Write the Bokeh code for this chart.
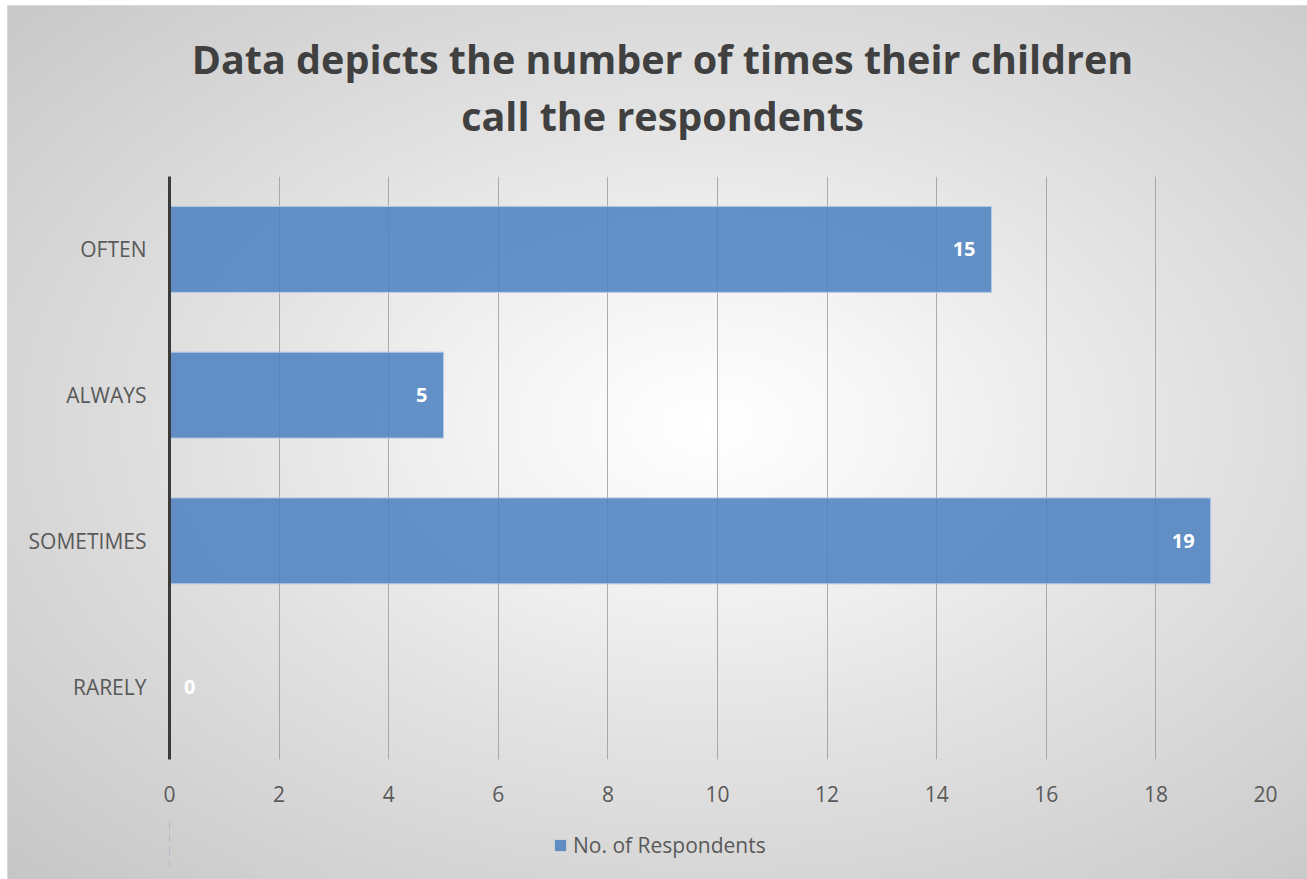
from bokeh.plotting import figure
from bokeh.models import ColumnDataSource, Legend, LegendItem, Div, Range1d
from bokeh.layouts import column
from bokeh.embed import file_html
from bokeh.resources import INLINE
from bokeh.core.properties import value

# Responses per category
categories = ["RARELY", "SOMETIMES", "ALWAYS", "OFTEN"]
respondents = [0, 19, 5, 15]
x_ticks = [0, 2, 4, 6, 8, 10, 12, 14, 16, 18, 20]

title_lines = ["Data depicts the number of times their children",
               "call the respondents"]
series_name = "No. of Respondents"

FONT = "Open Sans"
TEXT_COLOR = "#404040"
LABEL_COLOR = "#595959"
BAR_FILL = dict(fill_color="#4a7fc0", fill_alpha=0.85)

source = ColumnDataSource(data=dict(
    cat=categories,
    val=respondents,
    lbl=[str(v) for v in respondents],
    off=[-16 if v > 0 else 26 for v in respondents],
))

# Chart heading, two centred lines
heading = Div(
    text=(f'<div style="font-family:\'{FONT}\';font-weight:bold;font-size:39.5px;'
          f'color:{TEXT_COLOR};text-align:center;line-height:57px;'
          f'padding-top:20px;width:1299px;">'
          + "<br>".join(title_lines) + "</div>"),
    width=1299, height=139,
)

p = figure(
    y_range=categories,
    x_range=(0, 20),
    width=1299,
    height=664,
    output_backend="svg",
    toolbar_location=None,
    min_border_left=161,
    min_border_right=42,
    min_border_top=21,
    min_border_bottom=60,
)
p.border_fill_color = None
p.background_fill_color = None
p.outline_line_color = None

p.hbar(y="cat", right="val", height=0.59, source=source,
       line_color="#b4cbe6", line_width=1, **BAR_FILL)

p.text(x="val", y="cat", text="lbl", source=source, x_offset="off",
       text_align="right", text_baseline="middle",
       text_font=value(FONT), text_font_size="20px", text_font_style="bold",
       text_color="white")

# Axes
p.xaxis.ticker = x_ticks
p.xaxis.axis_line_color = None
p.xaxis.major_tick_line_color = None
p.xaxis.minor_tick_line_color = None
p.xaxis.major_label_text_font = FONT
p.xaxis.major_label_text_font_size = "21px"
p.xaxis.major_label_text_color = LABEL_COLOR
p.xaxis.major_label_standoff = 20

p.yaxis.axis_line_color = "#3a3a3a"
p.yaxis.axis_line_width = 3
p.yaxis.major_tick_line_color = None
p.yaxis.minor_tick_line_color = None
p.yaxis.major_label_text_font = FONT
p.yaxis.major_label_text_font_size = "21px"
p.yaxis.major_label_text_color = LABEL_COLOR
p.yaxis.major_label_standoff = 17

p.ygrid.grid_line_color = None
p.xgrid.grid_line_color = "#9a9a9a"
p.xgrid.grid_line_alpha = 0.8
p.y_range.range_padding = 0

# Legend strip under the chart: same series, viewed well off its data range
key = figure(
    width=1299, height=50,
    y_range=categories,
    x_range=Range1d(100, 101),
    output_backend="svg", toolbar_location=None,
    x_axis_type=None, y_axis_type=None,
    min_border_left=0, min_border_right=0,
    min_border_top=0, min_border_bottom=0,
)
key.border_fill_color = None
key.background_fill_color = None
key.outline_line_color = None
key.xgrid.visible = False
key.ygrid.visible = False
key_bar = key.hbar(y="cat", right="val", height=0.59, source=source,
                   line_color=None, **BAR_FILL)

legend = Legend(items=[LegendItem(label=series_name, renderers=[key_bar])],
                orientation="horizontal", location=(384, 10),
                background_fill_alpha=0, border_line_color=None,
                label_text_font=FONT, label_text_font_size="21px",
                label_text_color=LABEL_COLOR,
                glyph_width=14, glyph_height=14, label_standoff=6,
                padding=4, spacing=0, margin=0)
key.add_layout(legend)

page = column(
    heading, p, key,
    spacing=0,
    styles={
        "margin": "6px 0 0 8px",
        "background": "radial-gradient(ellipse farthest-corner at 54% 48%, "
                      "#ffffff 0%, #f6f6f6 18%, #e2e2e2 50%, #c6c6c6 100%)",
        "outline": "1px solid #d9d9d9",
        "width": "1299px",
        "height": "873px",
    },
)

open("out.html", "w").write(file_html(page, INLINE))
